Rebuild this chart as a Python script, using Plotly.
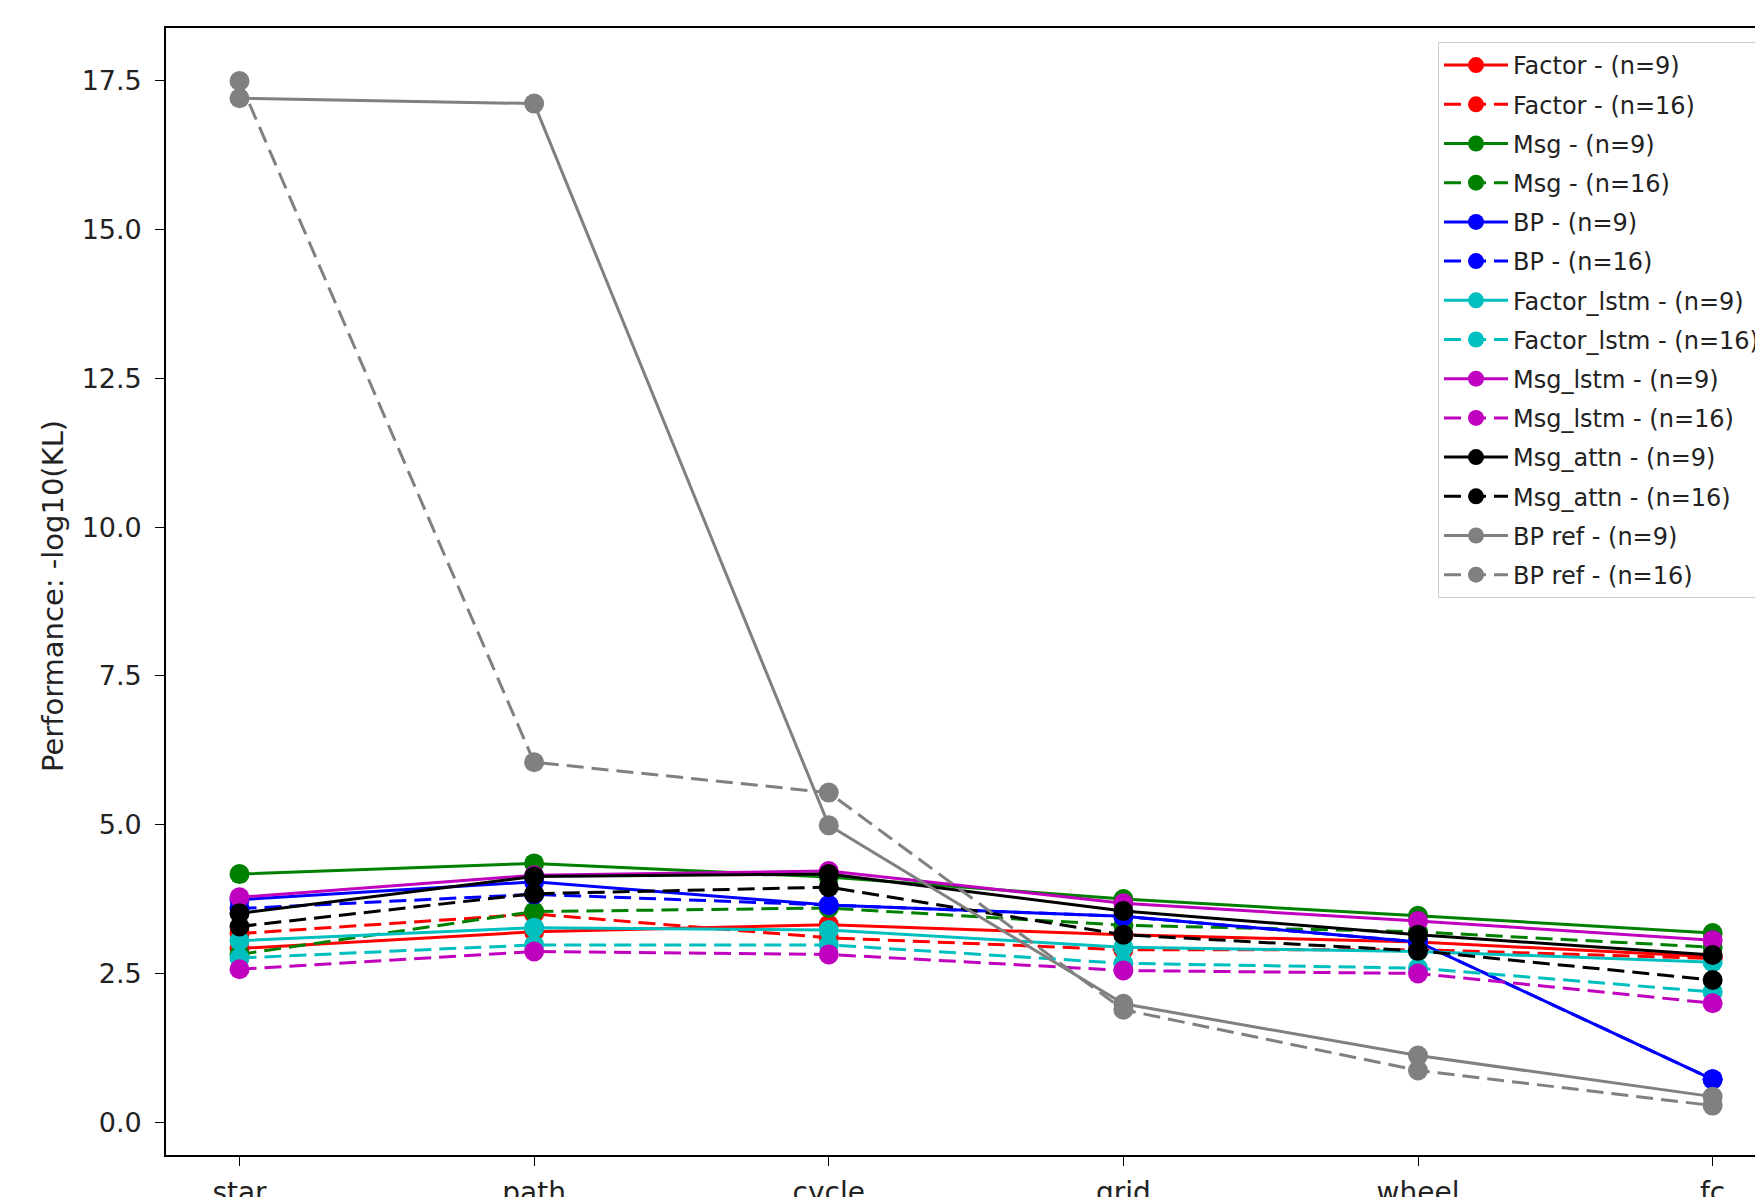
import plotly.graph_objects as go

categories = ['star', 'path', 'cycle', 'grid', 'wheel', 'fc']

factor_n9 = [2.92, 3.20, 3.32, 3.15, 3.03, 2.78]
factor_n16 = [3.17, 3.50, 3.10, 2.90, 2.90, 2.75]
msg_n9 = [4.17, 4.35, 4.12, 3.75, 3.47, 3.18]
msg_n16 = [2.82, 3.54, 3.60, 3.31, 3.20, 2.94]
bp_n9 = [3.74, 4.04, 3.65, 3.46, 3.03, 0.72]
bp_n16 = [3.59, 3.83, 3.65, 3.46, 3.03, 0.72]
factor_lstm_n9 = [3.05, 3.27, 3.23, 2.94, 2.87, 2.69]
factor_lstm_n16 = [2.76, 2.98, 2.98, 2.67, 2.59, 2.19]
msg_lstm_n9 = [3.78, 4.15, 4.22, 3.68, 3.38, 3.06]
msg_lstm_n16 = [2.57, 2.87, 2.82, 2.55, 2.50, 2.00]
msg_attn_n9 = [3.51, 4.13, 4.17, 3.55, 3.15, 2.81]
msg_attn_n16 = [3.29, 3.84, 3.95, 3.15, 2.88, 2.39]
bp_ref_n9 = [17.21, 17.12, 4.99, 1.99, 1.12, 0.43]
bp_ref_n16 = [17.50, 6.05, 5.54, 1.89, 0.87, 0.28]

series = [
    ('Factor - (n=9)', factor_n9, '#ff0000', 'solid'),
    ('Factor - (n=16)', factor_n16, '#ff0000', 'dash'),
    ('Msg - (n=9)', msg_n9, '#008000', 'solid'),
    ('Msg - (n=16)', msg_n16, '#008000', 'dash'),
    ('BP - (n=9)', bp_n9, '#0000ff', 'solid'),
    ('BP - (n=16)', bp_n16, '#0000ff', 'dash'),
    ('Factor_lstm - (n=9)', factor_lstm_n9, '#00bfbf', 'solid'),
    ('Factor_lstm - (n=16)', factor_lstm_n16, '#00bfbf', 'dash'),
    ('Msg_lstm - (n=9)', msg_lstm_n9, '#bf00bf', 'solid'),
    ('Msg_lstm - (n=16)', msg_lstm_n16, '#bf00bf', 'dash'),
    ('Msg_attn - (n=9)', msg_attn_n9, '#000000', 'solid'),
    ('Msg_attn - (n=16)', msg_attn_n16, '#000000', 'dash'),
    ('BP ref - (n=9)', bp_ref_n9, '#808080', 'solid'),
    ('BP ref - (n=16)', bp_ref_n16, '#808080', 'dash'),
]

FONT = 'DejaVu Sans'
fig = go.Figure()
for i, (name, vals, color, dash) in enumerate(series):
    fig.add_trace(go.Scatter(
        x=categories, y=vals, name=name, mode='lines+markers',
        legendgroup='g%d' % i,
        line=dict(color=color, width=3, dash='17px,8px' if dash == 'dash' else 'solid'),
        marker=dict(color=color, size=20, symbol='circle', line=dict(width=0)),
        hoverinfo='skip',
    ))

# page body has an 8px margin; figure sized to fit the 1763x1197 window
W, H = 1755, 1189
L, T, B = 158, 20, 42
PW, PH = W - L, H - B - T
fig.update_layout(
    width=W, height=H,
    margin=dict(l=L, r=0, t=T, b=B, pad=0, autoexpand=False),
    paper_bgcolor='white', plot_bgcolor='white',
    font=dict(family=FONT, size=24, color='#222222'),
    showlegend=True,
    legend=dict(
        x=(1430 - L) / PW, y=(PH - 14) / PH,
        xanchor='left', yanchor='top',
        bgcolor='rgba(255,255,255,0.85)', bordercolor='#cccccc', borderwidth=1,
        font=dict(family=FONT, size=24, color='#222222'),
        tracegroupgap=5, itemwidth=64,
    ),
    xaxis=dict(
        type='category', range=[-0.2495, 5.171], automargin=False,
        showgrid=False, zeroline=False,
        showline=True, linecolor='black', linewidth=1.6, mirror=True,
        ticks='outside', ticklen=9, tickwidth=1.4, tickcolor='black',
        ticklabelstandoff=3,
        tickfont=dict(family=FONT, size=28, color='#222222'),
    ),
    yaxis=dict(
        range=[-0.551, 18.39], tick0=0, dtick=2.5, tickformat='.1f', automargin=False,
        showgrid=False, zeroline=False,
        showline=True, linecolor='black', linewidth=1.6, mirror=False,
        ticks='outside', ticklen=9, tickwidth=1.4, tickcolor='black',
        ticklabelstandoff=8,
        tickfont=dict(family=FONT, size=27, color='#222222'),
    ),
    annotations=[dict(
        text='Performance: -log10(KL)', textangle=-90,
        xref='paper', yref='paper',
        x=(45 - L) / PW, y=(PH - 568) / PH,
        xanchor='center', yanchor='middle', showarrow=False,
        font=dict(family=FONT, size=29, color='#222222'),
    )],
)

fig.write_html('out.html')
